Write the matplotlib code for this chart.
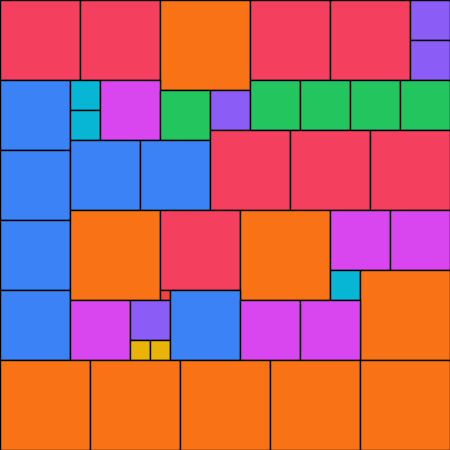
import matplotlib
matplotlib.use("Agg")
import matplotlib.pyplot as plt
from matplotlib.patches import Rectangle

# categories and their colours
categories = ["rose", "orange", "violet", "blue", "cyan", "fuchsia", "green", "yellow", "red"]
palette = {
    "rose": "#F43F5E", "orange": "#F97316", "violet": "#8B5CF6", "blue": "#3B82F6",
    "cyan": "#06B6D4", "fuchsia": "#D946EF", "green": "#22C55E", "yellow": "#EAB308",
    "red": "#EF4444",
}

# each square: category, size (grid units), and layout column/row (grid units)
cat = ["rose", "rose", "orange", "rose", "rose", "violet", "violet",
       "blue", "cyan", "cyan", "fuchsia", "green", "violet",
       "green", "green", "green", "green",
       "blue", "blue", "blue", "rose", "rose", "rose",
       "blue", "blue", "orange", "rose", "red", "orange",
       "fuchsia", "fuchsia", "cyan", "orange",
       "fuchsia", "violet", "yellow", "yellow", "blue", "fuchsia", "fuchsia",
       "orange", "orange", "orange", "orange", "orange"]
size = [8, 8, 9, 8, 8, 4, 4,
        7, 3, 3, 6, 5, 4,
        5, 5, 5, 5,
        7, 7, 7, 8, 8, 8,
        7, 7, 9, 8, 1, 9,
        6, 6, 3, 9,
        6, 4, 2, 2, 7, 6, 6,
        9, 9, 9, 9, 9]
col = [0, 8, 16, 25, 33, 41, 41,
       0, 7, 7, 10, 16, 21,
       25, 30, 35, 40,
       0, 7, 14, 21, 29, 37,
       0, 0, 7, 16, 16, 24,
       33, 39, 33, 36,
       7, 13, 13, 15, 17, 24, 30,
       0, 9, 18, 27, 36]
row = [0, 0, 0, 0, 0, 0, 4,
       8, 8, 11, 8, 9, 9,
       8, 8, 8, 8,
       15, 14, 14, 13, 13, 13,
       22, 29, 21, 21, 29, 21,
       21, 21, 27, 27,
       30, 30, 34, 34, 29, 30, 30,
       36, 36, 36, 36, 36]

fig = plt.figure(figsize=(4.5, 4.5), dpi=100)
ax = fig.add_axes([0, 0, 1, 1])
for c, s, x, y in zip(cat, size, col, row):
    ax.add_patch(Rectangle((x, y), s, s, facecolor=palette[c], edgecolor="black", linewidth=1.0))
ax.set_xlim(0, 45)
ax.set_ylim(45, 0)
ax.axis("off")
fig.savefig("out.png", dpi=100)
